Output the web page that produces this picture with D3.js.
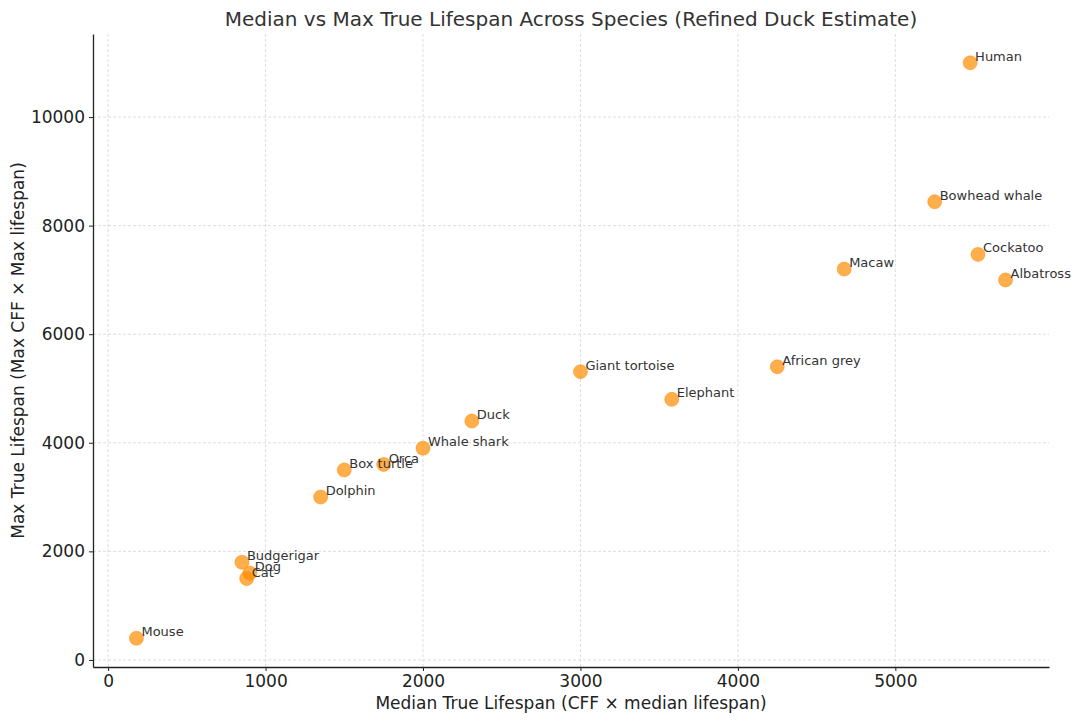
<!DOCTYPE html>
<html>
<head>
<meta charset="utf-8">
<script src="https://cdn.jsdelivr.net/npm/d3@7"></script>
<style>
  body { margin: 0; background: #fff; }
  text { font-family: "DejaVu Sans", sans-serif; }
</style>
</head>
<body>
<div id="chart"></div>
<script>
// species data
const species = ["Mouse", "Budgerigar", "Dog", "Cat", "Dolphin", "Box turtle", "Orca",
  "Whale shark", "Duck", "Giant tortoise", "Elephant", "African grey", "Macaw",
  "Bowhead whale", "Human", "Cockatoo", "Albatross"];
const medianTrue = [180, 850, 900, 880, 1350, 1500, 1750, 2000, 2310, 3000, 3580, 4250, 4675,
  5250, 5475, 5525, 5700];
const maxTrue = [400, 1800, 1600, 1500, 3000, 3500, 3600, 3900, 4400, 5310, 4800, 5400, 7200,
  8440, 11000, 7470, 7000];
const xTicks = [0, 1000, 2000, 3000, 4000, 5000];
const yTicks = [0, 2000, 4000, 6000, 8000, 10000];

const data = species.map((s, i) => ({ name: s, x: medianTrue[i], y: maxTrue[i] }));

const W = 1080, H = 722;
const margin = { top: 34, right: 31, bottom: 55, left: 93 };
const width = W - margin.left - margin.right;
const height = H - margin.top - margin.bottom;

const svg = d3.select("#chart").append("svg")
    .attr("width", W)
    .attr("height", H);

const g = svg.append("g")
    .attr("transform", `translate(${margin.left}, ${margin.top})`);

const x = d3.scaleLinear().domain([-96, 5976]).range([0, width]);
const y = d3.scaleLinear().domain([-130, 11530]).range([height, 0]);

// grid
g.append("g").selectAll("line")
  .data(xTicks).join("line")
    .attr("x1", d => x(d)).attr("x2", d => x(d))
    .attr("y1", 0).attr("y2", height)
    .attr("stroke", "#d4d4d4").attr("stroke-width", 0.8)
    .attr("stroke-dasharray", "3,2");
g.append("g").selectAll("line")
  .data(yTicks).join("line")
    .attr("x1", 0).attr("x2", width)
    .attr("y1", d => y(d)).attr("y2", d => y(d))
    .attr("stroke", "#d4d4d4").attr("stroke-width", 0.8)
    .attr("stroke-dasharray", "3,2");

// axes
const xAxis = g.append("g")
    .attr("transform", `translate(0, ${height})`)
    .call(d3.axisBottom(x).tickValues(xTicks).tickFormat(d3.format("d"))
      .tickSize(4).tickPadding(4).tickSizeOuter(0));
const yAxis = g.append("g")
    .call(d3.axisLeft(y).tickValues(yTicks).tickFormat(d3.format("d"))
      .tickSize(4).tickPadding(4).tickSizeOuter(0));
[xAxis, yAxis].forEach(a => {
  a.select(".domain").attr("stroke", "#222").attr("stroke-width", 1.3);
  a.selectAll(".tick line").attr("stroke", "#222");
  a.selectAll(".tick text").attr("font-size", 17).attr("fill", "#222")
    .style("font-family", "DejaVu Sans");
});

// dots
g.append("g").selectAll("circle")
  .data(data).join("circle")
    .attr("cx", d => x(d.x))
    .attr("cy", d => y(d.y))
    .attr("r", 7)
    .attr("fill", "#ff8c00").attr("fill-opacity", 0.7)
    .attr("stroke", "#ff8c00").attr("stroke-opacity", 0.5).attr("stroke-width", 1);

// labels
g.append("g").selectAll("text")
  .data(data).join("text")
    .attr("x", d => x(d.x) + 5)
    .attr("y", d => y(d.y) - 2)
    .attr("font-size", 13)
    .attr("fill", "#333")
    .text(d => d.name);

// title and axis labels
svg.append("text")
    .attr("x", margin.left + width / 2).attr("y", 26)
    .attr("text-anchor", "middle").attr("font-size", 20).attr("fill", "#333")
    .text("Median vs Max True Lifespan Across Species (Refined Duck Estimate)");
svg.append("text")
    .attr("x", margin.left + width / 2).attr("y", 709)
    .attr("text-anchor", "middle").attr("font-size", 17).attr("fill", "#222")
    .text("Median True Lifespan (CFF × median lifespan)");
svg.append("text")
    .attr("transform", `translate(24, ${margin.top + height / 2}) rotate(-90)`)
    .attr("text-anchor", "middle").attr("font-size", 17).attr("fill", "#222")
    .text("Max True Lifespan (Max CFF × Max lifespan)");
</script>
</body>
</html>
